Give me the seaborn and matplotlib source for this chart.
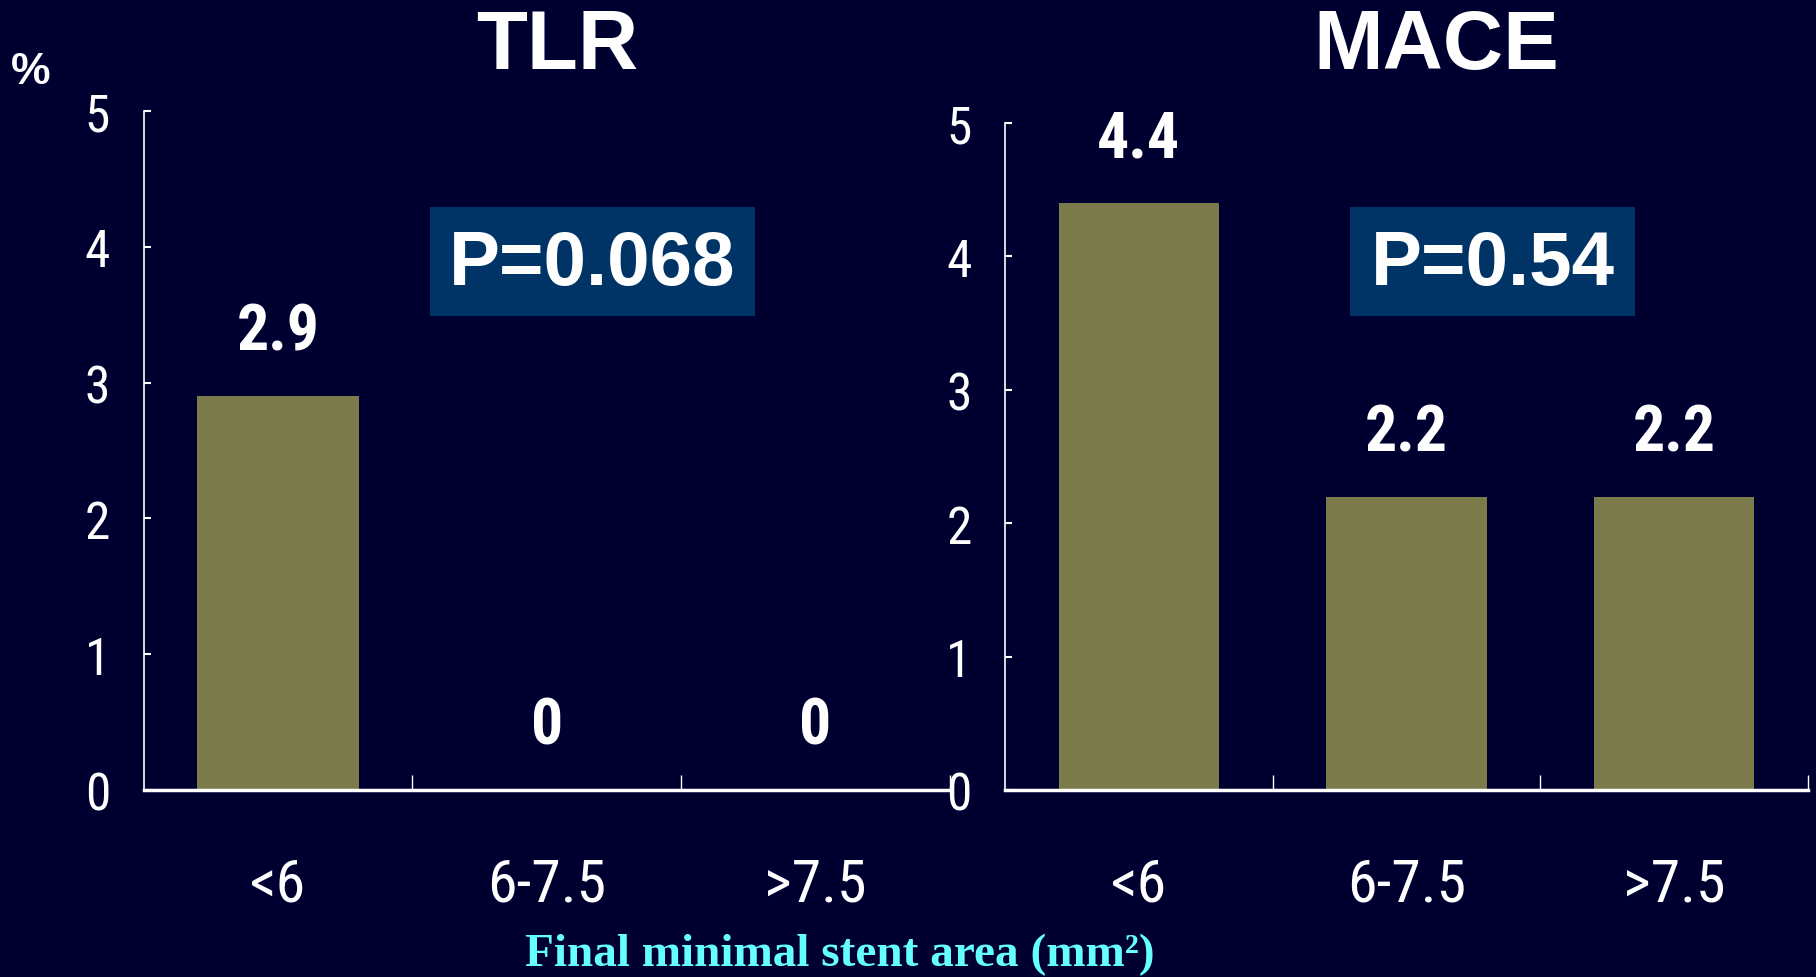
import matplotlib
matplotlib.use("Agg")
import matplotlib.pyplot as plt
from matplotlib import font_manager
from matplotlib.font_manager import FontProperties
from matplotlib.patches import Rectangle
import seaborn as sns
import pandas as pd

# Event rates (%) by final minimal stent area group
categories = ["<6", "6-7.5", ">7.5"]
tlr_values = [2.9, 0, 0]
mace_values = [4.4, 2.2, 2.2]
panel_titles = ["TLR", "MACE"]
p_labels = ["P=0.068", "P=0.54"]
y_ticks = [0, 1, 2, 3, 4, 5]
x_title = "Final minimal stent area (mm²)"

BG = "#000030"
BAR = "#7B7A4A"
BOX = "#003366"
CYAN = "#66FFFF"

STRETCH_RANK = {"ultra-condensed": 0, "extra-condensed": 1, "condensed": 2,
                "semi-condensed": 3}


def condensed_font(bold):
    """Return a FontProperties for the narrowest installed sans face."""
    best = None
    for f in font_manager.fontManager.ttflist:
        name = f.name.lower()
        st = f.stretch if isinstance(f.stretch, str) else ""
        narrow_name = "narrow" in name or "condensed" in name
        if st not in STRETCH_RANK and not narrow_name:
            continue
        if "serif" in name and "sans" not in name:
            continue
        if "mono" in name:
            continue
        w = f.weight if isinstance(f.weight, int) else (700 if "bold" in str(f.weight) else 400)
        if f.style != "normal":
            continue
        if bold and w < 600:
            continue
        if not bold and (w < 350 or w > 500):
            continue
        rank = STRETCH_RANK.get(st, 2)
        pref = 0 if "liberation" in name or "arial" in name else (1 if "noto" in name or "roboto" in name else 2)
        key = (rank, pref)
        if best is None or key < best[0]:
            best = (key, f.fname)
    if best is None:
        return FontProperties(family="DejaVu Sans", stretch="condensed",
                              weight="bold" if bold else "normal")
    return FontProperties(fname=best[1])


NARROW = condensed_font(False)
NARROW_B = condensed_font(True)

sns.set_theme(style="white")
plt.rcParams["font.family"] = ["Liberation Sans", "DejaVu Sans"]

W, H = 1816, 978
fig = plt.figure(figsize=(W / 100, H / 100), dpi=100, facecolor=BG)


def fx(px):
    return px / W


def fy(py):
    return 1 - py / H


def fp(base, size):
    p = base.copy()
    p.set_size(size)
    return p


ax_l = fig.add_axes([fx(143.6), fy(791), fx(950 - 143.6), (791 - 112) / H])
ax_r = fig.add_axes([fx(1005), fy(791), fx(1808 - 1005), (791 - 124) / H])

panels = [(ax_l, tlr_values), (ax_r, mace_values)]
for ax, vals in panels:
    df = pd.DataFrame({"group": categories, "rate": vals})
    sns.barplot(data=df, x="group", y="rate", ax=ax, color=BAR,
                saturation=1, width=0.6, edgecolor="none", linewidth=0)
    ax.set_facecolor(BG)
    ax.set_xlim(-0.5, 2.5)
    ax.set_ylim(0, 5)
    ax.set_xlabel("")
    ax.set_ylabel("")
    for s in ["top", "right"]:
        ax.spines[s].set_visible(False)
    ax.spines["left"].set_color("white")
    ax.spines["left"].set_linewidth(1.2)
    ax.spines["bottom"].set_color("white")
    ax.spines["bottom"].set_linewidth(2.5)
    ax.spines["bottom"].set_zorder(5)

    ax.set_yticks(y_ticks)
    ax.set_yticklabels([str(t) for t in y_ticks], fontproperties=fp(NARROW, 37),
                       color="white")
    ax.tick_params(axis="y", direction="in", length=5, width=1.5,
                   color="white", pad=24, left=True)

    ax.set_xticks(range(len(categories)))
    ax.set_xticklabels(categories, fontproperties=fp(NARROW, 43),
                       color="white")
    ax.tick_params(axis="x", which="major", length=0, pad=47)
    ax.set_xticks([0.5, 1.5, 2.5], minor=True)
    ax.tick_params(axis="x", which="minor", direction="in", length=11,
                   width=1.0, color="white", bottom=True)
    ax.grid(False)

    for i, v in enumerate(vals):
        ax.annotate(f"{v:g}", xy=(i, v), xytext=(0, 46),
                    textcoords="offset points", ha="center", va="center",
                    fontproperties=fp(NARROW_B, 46), color="white")

# Panel titles
fig.text(fx(557), fy(47), panel_titles[0], ha="center", va="center",
         fontsize=60, fontweight="bold", color="white")
fig.text(fx(1436), fy(47), panel_titles[1], ha="center", va="center",
         fontsize=60, fontweight="bold", color="white")

# P-value boxes
for (x0, x1), label in zip([(430, 755), (1350, 1635)], p_labels):
    fig.add_artist(Rectangle((fx(x0), fy(317)), fx(x1 - x0), (317 - 208) / H,
                             transform=fig.transFigure, facecolor=BOX,
                             edgecolor="none"))
    fig.text(fx((x0 + x1) / 2), fy(266), label, ha="center", va="center",
             fontsize=55, fontweight="bold", color="white")

# Unit marker
fig.text(fx(31), fy(72), "%", ha="center", va="center", fontsize=32,
         fontweight="bold", color="white")

# Shared x-axis title
fig.text(fx(840), fy(955), x_title, ha="center", va="center",
         fontfamily=["Liberation Serif", "DejaVu Serif"], fontweight="bold",
         fontsize=34, color=CYAN)

fig.savefig("out.png", dpi=100, facecolor=BG)
